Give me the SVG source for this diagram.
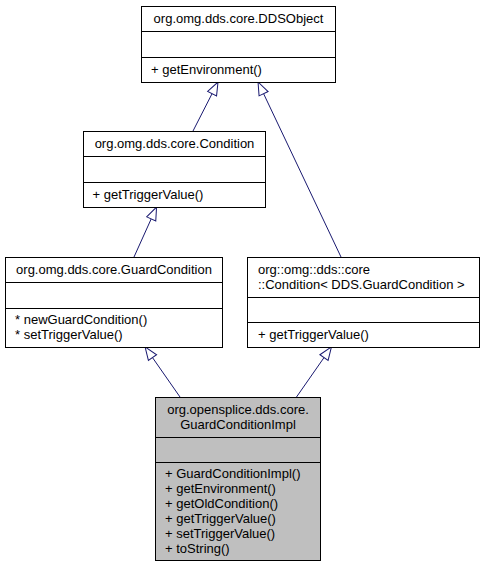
<svg xmlns="http://www.w3.org/2000/svg" width="485" height="567" viewBox="0 0 485 567">
<style>
text{font-family:"Liberation Sans",Arial,Helvetica,sans-serif;font-size:13px;fill:#000}
.c{text-anchor:middle}
.box{fill:#fff;stroke:#000;stroke-width:1}
.cur{fill:#bfbfbf;stroke:#000;stroke-width:1}
.sep{stroke:#000;stroke-width:1}
.edge{fill:none;stroke:#191970;stroke-width:1}
</style>
<defs>
<marker id="inh" markerUnits="userSpaceOnUse" markerWidth="16" markerHeight="12" viewBox="-1 -6 16 12" refX="0" refY="0" orient="auto">
<path d="M0,-5 L13,0 L0,5 Z" fill="#fff" stroke="#191970" stroke-width="1"/>
</marker>
</defs>
<g id="connectors">
<path class="edge" d="M193,131 L212.1,93.6" marker-end="url(#inh)"/>
<path class="edge" d="M341,257 L263.6,93.7" marker-end="url(#inh)"/>
<path class="edge" d="M134,257 L151.2,218.9" marker-end="url(#inh)"/>
<path class="edge" d="M180,397 L152.5,357.6" marker-end="url(#inh)"/>
<path class="edge" d="M296.5,397 L324,357.6" marker-end="url(#inh)"/>
</g>
<g id="DDSObject">
<rect class="box" x="141.5" y="6.5" width="194" height="76"/>
<line class="sep" x1="141.5" y1="31.5" x2="335.5" y2="31.5"/>
<line class="sep" x1="141.5" y1="57.5" x2="335.5" y2="57.5"/>
<text class="c" x="238.5" y="23">org.omg.dds.core.DDSObject</text>
<text x="151" y="74">+ getEnvironment()</text>
</g>
<g id="Condition">
<rect class="box" x="83.5" y="131.5" width="182" height="76"/>
<line class="sep" x1="83.5" y1="156.5" x2="265.5" y2="156.5"/>
<line class="sep" x1="83.5" y1="182.5" x2="265.5" y2="182.5"/>
<text class="c" x="174.5" y="148">org.omg.dds.core.Condition</text>
<text x="92.5" y="199">+ getTriggerValue()</text>
</g>
<g id="GuardCondition">
<rect class="box" x="5.5" y="257.5" width="217" height="90"/>
<line class="sep" x1="5.5" y1="282.5" x2="222.5" y2="282.5"/>
<line class="sep" x1="5.5" y1="308.5" x2="222.5" y2="308.5"/>
<text class="c" x="114" y="274">org.omg.dds.core.GuardCondition</text>
<text x="15" y="324">* newGuardCondition()</text>
<text x="15" y="339">* setTriggerValue()</text>
</g>
<g id="ConditionTemplate">
<rect class="box" x="247.5" y="257.5" width="232" height="90"/>
<line class="sep" x1="247.5" y1="297.5" x2="479.5" y2="297.5"/>
<line class="sep" x1="247.5" y1="322.5" x2="479.5" y2="322.5"/>
<text x="258" y="274">org::omg::dds::core</text>
<text x="258" y="289">::Condition&lt; DDS.GuardCondition &gt;</text>
<text x="258" y="339">+ getTriggerValue()</text>
</g>
<g id="GuardConditionImpl">
<rect class="cur" x="155.5" y="397.5" width="165" height="163"/>
<line class="sep" x1="155.5" y1="437.5" x2="320.5" y2="437.5"/>
<line class="sep" x1="155.5" y1="462.5" x2="320.5" y2="462.5"/>
<text class="c" x="238" y="414">org.opensplice.dds.core.</text>
<text class="c" x="238" y="429">GuardConditionImpl</text>
<text x="165" y="478">+ GuardConditionImpl()</text>
<text x="165" y="493">+ getEnvironment()</text>
<text x="165" y="508">+ getOldCondition()</text>
<text x="165" y="523">+ getTriggerValue()</text>
<text x="165" y="538">+ setTriggerValue()</text>
<text x="165" y="553">+ toString()</text>
</g>
</svg>
